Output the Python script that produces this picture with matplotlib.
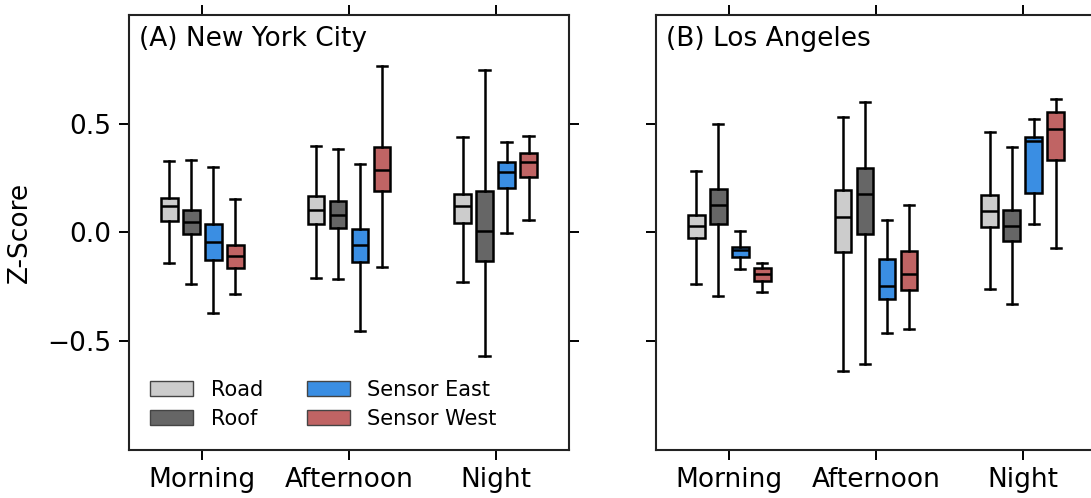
import matplotlib
matplotlib.use("Agg")
import matplotlib.pyplot as plt
from matplotlib.patches import Patch

# Categories and series
times = ["Morning", "Afternoon", "Night"]
series = ["Road", "Roof", "Sensor East", "Sensor West"]
colors = ["#cccccc", "#666666", "#3a8ee3", "#c06464"]

# Box stats per time of day: (whislo, q1, med, q3, whishi)
nyc_road = [(-0.142, 0.053, 0.120, 0.160, 0.330),
            (-0.210, 0.041, 0.105, 0.170, 0.397),
            (-0.228, 0.044, 0.120, 0.178, 0.440)]
nyc_roof = [(-0.236, -0.009, 0.047, 0.105, 0.333),
            (-0.215, 0.021, 0.082, 0.143, 0.382),
            (-0.568, -0.131, 0.006, 0.190, 0.749)]
nyc_east = [(-0.370, -0.126, -0.046, 0.038, 0.300),
            (-0.451, -0.137, -0.058, 0.018, 0.315),
            (-0.002, 0.205, 0.277, 0.326, 0.414)]
nyc_west = [(-0.282, -0.162, -0.108, -0.058, 0.155),
            (-0.160, 0.193, 0.288, 0.391, 0.767),
            (0.059, 0.257, 0.322, 0.364, 0.443)]

la_road = [(-0.236, -0.027, 0.032, 0.079, 0.283),
           (-0.639, -0.089, 0.071, 0.196, 0.531),
           (-0.260, 0.026, 0.097, 0.173, 0.461)]
la_roof = [(-0.291, 0.037, 0.125, 0.199, 0.498),
           (-0.604, -0.005, 0.175, 0.297, 0.600),
           (-0.329, -0.041, 0.029, 0.105, 0.395)]
la_east = [(-0.166, -0.114, -0.081, -0.066, 0.007),
           (-0.461, -0.306, -0.244, -0.122, 0.059),
           (0.039, 0.181, 0.421, 0.440, 0.520)]
la_west = [(-0.273, -0.221, -0.190, -0.162, -0.142),
           (-0.442, -0.263, -0.190, -0.084, 0.125),
           (-0.070, 0.335, 0.475, 0.554, 0.616)]

panels = [
    ("(A) New York City", [nyc_road, nyc_roof, nyc_east, nyc_west]),
    ("(B) Los Angeles", [la_road, la_roof, la_east, la_west]),
]

plt.rcParams["font.family"] = "DejaVu Sans"

fig = plt.figure(figsize=(10.91, 4.98), dpi=100)
ax_a = fig.add_axes([0.1182, 0.0964, 0.4033, 0.8735])
ax_b = fig.add_axes([0.6013, 0.0964, 0.4033, 0.8735])

offsets = [-0.225, -0.075, 0.075, 0.225]
lw = 1.8

for ax, (title, data) in zip([ax_a, ax_b], panels):
    for s, (stats_list, color) in enumerate(zip(data, colors)):
        stats = []
        for lo, q1, med, q3, hi in stats_list:
            stats.append({"whislo": lo, "q1": q1, "med": med, "q3": q3,
                          "whishi": hi, "fliers": []})
        positions = [i + offsets[s] for i in range(len(times))]
        ax.bxp(stats, positions=positions, widths=0.115, capwidths=0.07,
               patch_artist=True, showfliers=False, manage_ticks=False,
               boxprops=dict(facecolor=color, edgecolor="black", linewidth=lw),
               medianprops=dict(color="black", linewidth=lw),
               whiskerprops=dict(color="black", linewidth=lw),
               capprops=dict(color="black", linewidth=lw))
    ax.set_xlim(-0.5, 2.5)
    ax.set_ylim(-1.0, 1.0)
    ax.set_xticks(range(len(times)))
    ax.set_xticklabels(times)
    ax.set_yticks([-0.5, 0.0, 0.5])
    ax.tick_params(axis="both", which="major", direction="out", length=7,
                   width=1.4, labelsize=19, top=True, right=True)
    ax.tick_params(axis="y", pad=6)
    ax.tick_params(axis="x", pad=5)
    for sp in ax.spines.values():
        sp.set_linewidth(1.5)
        sp.set_color("#222222")
    ax.text(0.023, 0.975, title, transform=ax.transAxes, ha="left", va="top",
            fontsize=19)

ax_a.set_ylabel("Z-Score", fontsize=19, labelpad=10)
ax_b.set_yticklabels([])

handles = [Patch(facecolor=c, edgecolor="#444444", linewidth=1.0) for c in colors]
ax_a.legend(handles, series, loc="lower left", ncol=2, frameon=False,
            fontsize=15, handlelength=2.07, handleheight=0.72,
            handletextpad=0.85, columnspacing=2.1, labelspacing=0.45,
            borderaxespad=0.6)

fig.savefig("out.png", dpi=100)
